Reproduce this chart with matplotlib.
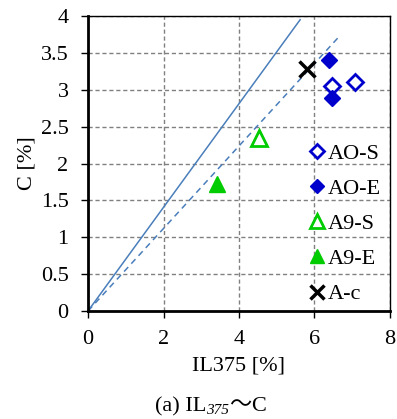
import matplotlib
matplotlib.use("Agg")
import matplotlib.pyplot as plt
import numpy as np

plt.rcParams['font.family'] = ['Liberation Serif', 'Noto Sans CJK JP']

# Data
ao_s_x = [6.46, 7.08]
ao_s_y = [3.05, 3.11]
ao_e_x = [6.39, 6.46]
ao_e_y = [3.40, 2.89]
a9_s_x = [4.53]
a9_s_y = [2.35]
a9_e_x = [3.41]
a9_e_y = [1.72]
ac_x = [5.79]
ac_y = [3.28]
solid_x = [0, 5.62]
solid_y = [0, 3.95]
dash_x = [0, 6.65]
dash_y = [0, 3.72]

fig = plt.figure(figsize=(3.97, 4.19), dpi=100)
ax = fig.add_axes([88/397, 1-311/419, (390-88)/397, (311-16)/419])

ax.plot(solid_x, solid_y, color='#4a7ebb', lw=1.1)
ax.plot(dash_x, dash_y, color='#4a7ebb', lw=1.1, ls=(0, (4, 3)))

blue = '#0000cc'
green = '#00cc00'
ax.plot(ao_s_x, ao_s_y, ls='none', marker='D', ms=8, mfc='white', mec=blue, mew=2, label='AO-S')
ax.plot(ao_e_x, ao_e_y, ls='none', marker='D', ms=8, mfc=blue, mec=blue, mew=1, label='AO-E')
ax.plot(a9_s_x, a9_s_y, ls='none', marker='^', ms=11, mfc='white', mec=green, mew=2, label='A9-S')
ax.plot(a9_e_x, a9_e_y, ls='none', marker='^', ms=11, mfc=green, mec=green, mew=1, label='A9-E')
ax.plot(ac_x, ac_y, ls='none', marker='x', ms=11, color='black', mew=2.5, label='A-c')

ax.set_xlim(0, 8)
ax.set_ylim(0, 4)
ax.set_xticks([0, 2, 4, 6, 8])
ax.set_yticks(np.arange(0, 4.01, 0.5))
ax.set_yticklabels(['0', '0.5', '1', '1.5', '2', '2.5', '3', '3.5', '4'])
ax.grid(True, color='#808080', ls=(0, (3, 2)), lw=1)
ax.set_axisbelow(True)
for s in ['left', 'bottom']:
    ax.spines[s].set_linewidth(2)
for s in ['top', 'right']:
    ax.spines[s].set_linewidth(1)
ax.tick_params(labelsize=16, width=1, length=5, direction='out')
ax.tick_params(axis='y', pad=9)
ax.tick_params(axis='x', pad=9)
ax.set_xlabel('IL375 [%]', fontsize=16, labelpad=5)
ax.set_ylabel('C [%]', fontsize=16, labelpad=3)

leg = ax.legend(loc='lower right', bbox_to_anchor=(1.03, -0.038), frameon=False, fontsize=16,
                handlelength=0.8, handletextpad=0.1, labelspacing=0.66, borderpad=0.3,
                markerscale=0.9)

# Caption with subscript
fig.canvas.draw()
r = fig.canvas.get_renderer()
cy = 1 - 411/419
t1 = fig.text(0, cy, '(a) IL', fontsize=16, va='baseline')
t2 = fig.text(0, cy - 0.008, '375', fontsize=11, style='italic', va='baseline')
t3 = fig.text(0, cy, '～', fontsize=16, va='baseline', family=['Noto Sans CJK JP'])
t4 = fig.text(0, cy, 'C', fontsize=16, va='baseline')
texts = [t1, t2, t3, t4]
widths = [t.get_window_extent(r).width for t in texts]
total = sum(widths)
x = 397 * 0.5 + 12 - total / 2
for t, w in zip(texts, widths):
    t.set_x(x / 397)
    x += w

fig.savefig('out.png', dpi=100)
